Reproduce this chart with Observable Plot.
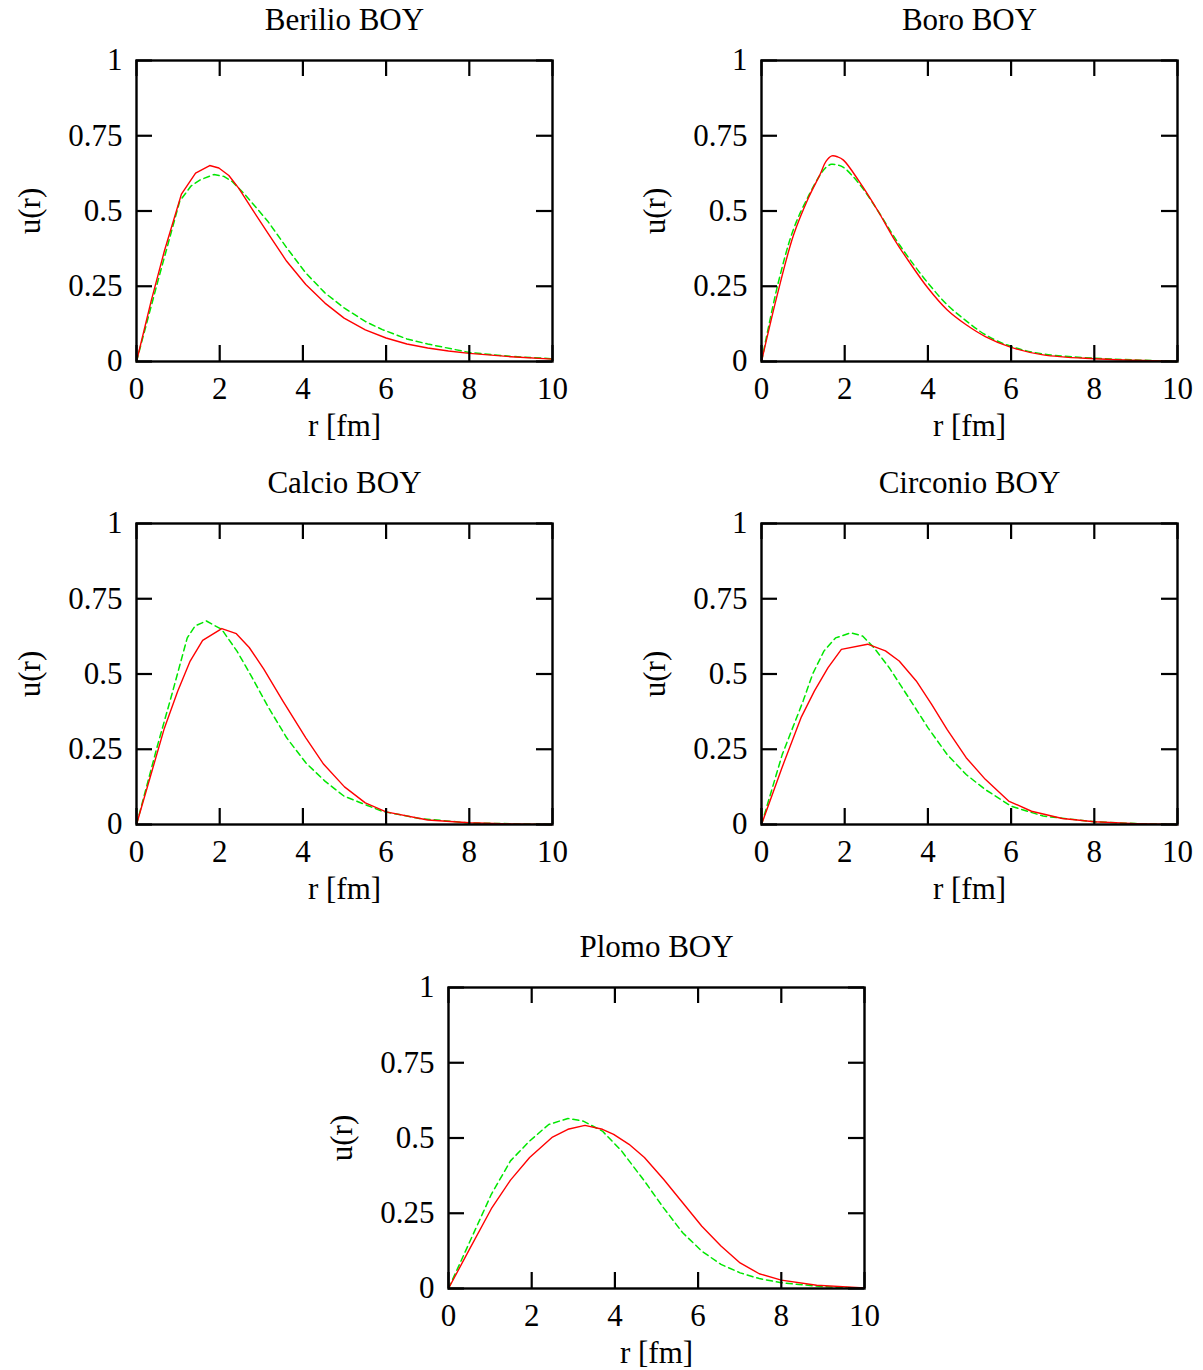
<!DOCTYPE html>
<html><head><meta charset="utf-8">
<script src="https://cdn.jsdelivr.net/npm/d3@7"></script>
<script src="https://cdn.jsdelivr.net/npm/@observablehq/plot@0.6"></script>
<style>
body{margin:0;background:#fff;}
#wrap{position:relative;width:1203px;height:1370px;overflow:hidden;background:#fff;}
#wrap svg{position:absolute;}
</style></head><body><div id="wrap"></div>
<script>
// ---- data ----
const titles = ["Berilio BOY", "Boro BOY", "Calcio BOY", "Circonio BOY", "Plomo BOY"];
const xLabel = "r [fm]";
const yLabel = "u(r)";
const xTicks = [0, 2, 4, 6, 8, 10];
const yTicks = [0, 0.25, 0.5, 0.75, 1];

const beRedR = [0, 0.35, 0.67, 1.08, 1.42, 1.76, 1.98, 2.22, 2.46, 2.78, 3.15, 3.61, 4.07, 4.53, 4.99, 5.5, 6.0, 6.5, 7.0, 7.5, 8.0, 9.0, 10.0];
const beRedU = [0, 0.2, 0.367, 0.556, 0.626, 0.651, 0.643, 0.618, 0.575, 0.506, 0.428, 0.333, 0.256, 0.194, 0.144, 0.105, 0.078, 0.058, 0.045, 0.035, 0.027, 0.016, 0.008];
const beGreenR = [0, 0.5, 1.04, 1.31, 1.54, 1.86, 2.1, 2.3, 2.6, 3.15, 3.61, 4.07, 4.53, 4.99, 5.5, 5.91, 6.5, 7.0, 8.0, 9.0, 10];
const beGreenU = [0, 0.26, 0.533, 0.583, 0.604, 0.621, 0.615, 0.598, 0.556, 0.467, 0.378, 0.294, 0.228, 0.178, 0.133, 0.106, 0.075, 0.058, 0.03, 0.017, 0.009];

const boRedR = [0, 0.4, 0.77, 1.13, 1.41, 1.55, 1.69, 1.83, 1.97, 2.34, 2.8, 3.17, 3.54, 4.0, 4.46, 4.92, 5.38, 6.0, 6.77, 8.0, 9.0, 10];
const boRedU = [0, 0.233, 0.42, 0.544, 0.622, 0.665, 0.683, 0.68, 0.669, 0.60, 0.5, 0.411, 0.333, 0.244, 0.172, 0.122, 0.083, 0.047, 0.022, 0.009, 0.004, 0];
const boGreenR = [0, 0.4, 0.77, 1.13, 1.41, 1.55, 1.68, 1.82, 1.97, 2.34, 2.8, 3.17, 3.54, 4.0, 4.46, 4.92, 5.38, 6.0, 6.77, 8.0, 9.0, 10];
const boGreenU = [0, 0.26, 0.44, 0.55, 0.62, 0.645, 0.655, 0.653, 0.645, 0.592, 0.5, 0.418, 0.344, 0.261, 0.189, 0.135, 0.089, 0.05, 0.025, 0.011, 0.005, 0];

const caRedR = [0, 0.67, 0.99, 1.29, 1.59, 2.05, 2.4, 2.71, 3.06, 3.52, 4.07, 4.5, 5.0, 5.5, 6.0, 7.0, 8.0, 9.0, 10];
const caRedU = [0, 0.32, 0.443, 0.543, 0.612, 0.651, 0.634, 0.588, 0.516, 0.41, 0.288, 0.2, 0.125, 0.072, 0.042, 0.015, 0.006, 0.002, 0];
const caGreenR = [0, 0.5, 0.85, 1.22, 1.41, 1.68, 2.05, 2.42, 2.78, 3.15, 3.61, 4.07, 4.53, 4.99, 5.9, 6.8, 8, 10];
const caGreenU = [0, 0.26, 0.432, 0.62, 0.66, 0.676, 0.648, 0.575, 0.488, 0.394, 0.288, 0.205, 0.144, 0.094, 0.044, 0.02, 0.005, 0];

const ciRedR = [0, 0.49, 0.95, 1.27, 1.6, 1.92, 2.55, 2.98, 3.31, 3.72, 4.09, 4.46, 4.92, 5.38, 5.94, 6.49, 7.23, 8, 9, 10];
const ciRedU = [0, 0.188, 0.355, 0.443, 0.521, 0.582, 0.599, 0.577, 0.543, 0.477, 0.399, 0.316, 0.222, 0.15, 0.078, 0.044, 0.02, 0.009, 0.003, 0];
const ciGreenR = [0, 0.5, 1.0, 1.23, 1.5, 1.78, 2.15, 2.43, 2.7, 3.07, 3.54, 4.0, 4.46, 4.92, 5.38, 6.0, 6.77, 8, 9, 10];
const ciGreenU = [0, 0.233, 0.41, 0.5, 0.576, 0.62, 0.637, 0.626, 0.588, 0.521, 0.421, 0.322, 0.233, 0.166, 0.116, 0.061, 0.028, 0.009, 0.003, 0];

const plRedR = [0, 0.48, 1.03, 1.49, 1.95, 2.5, 2.87, 3.28, 3.7, 3.97, 4.34, 4.71, 5.17, 5.63, 6.09, 6.55, 7.01, 7.47, 8, 8.85, 10];
const plRedU = [0, 0.124, 0.265, 0.36, 0.435, 0.503, 0.529, 0.542, 0.529, 0.512, 0.479, 0.435, 0.363, 0.285, 0.207, 0.141, 0.085, 0.049, 0.028, 0.011, 0.002];
const plGreenR = [0, 0.48, 1.03, 1.49, 1.95, 2.41, 2.87, 3.24, 3.7, 4.16, 4.71, 5.17, 5.63, 6.09, 6.55, 7.01, 7.47, 8, 9, 10];
const plGreenU = [0, 0.146, 0.313, 0.424, 0.49, 0.545, 0.565, 0.556, 0.523, 0.457, 0.357, 0.268, 0.185, 0.124, 0.08, 0.052, 0.033, 0.019, 0.006, 0.001];

// ---- layout ----
const panels = [
  {title: titles[0], rr: beRedR, ru: beRedU, gr: beGreenR, gu: beGreenU, left: 0, top: 0, curve: "linear"},
  {title: titles[1], rr: boRedR, ru: boRedU, gr: boGreenR, gu: boGreenU, left: 625, top: 0, curve: "catmull-rom"},
  {title: titles[2], rr: caRedR, ru: caRedU, gr: caGreenR, gu: caGreenU, left: 0, top: 463, curve: "linear"},
  {title: titles[3], rr: ciRedR, ru: ciRedU, gr: ciGreenR, gu: ciGreenU, left: 625, top: 463, curve: "linear"},
  {title: titles[4], rr: plRedR, ru: plRedU, gr: plGreenR, gu: plGreenU, left: 312, top: 927, curve: "linear"}
];
const W = 416, H = 301, ML = 136, MT = 60, MR = 26, MB = 99, TL = 16;
const wrap = document.getElementById("wrap");

for (const p of panels) {
  const red = p.rr.map((r, i) => ({r, u: p.ru[i]}));
  const green = p.gr.map((r, i) => ({r, u: p.gu[i]}));
  const svg = Plot.plot({
    width: ML + W + MR, height: MT + H + MB,
    marginLeft: ML, marginTop: MT, marginRight: MR, marginBottom: MB,
    style: {fontFamily: "'Liberation Serif', 'DejaVu Serif', serif", fontSize: "31px", color: "#000", background: "transparent"},
    x: {domain: [0, 10]},
    y: {domain: [0, 1]},
    marks: [
      Plot.line(green, {x: "r", y: "u", stroke: "#00e600", strokeWidth: 1.5, strokeDasharray: "6,4", curve: p.curve}),
      Plot.line(red, {x: "r", y: "u", stroke: "#ff0000", strokeWidth: 1.4, curve: p.curve}),
      Plot.tickX(xTicks, {x: d => d, insetTop: H - TL, strokeWidth: 2.2, stroke: "#000"}),
      Plot.tickX(xTicks, {x: d => d, insetBottom: H - TL, strokeWidth: 2.2, stroke: "#000"}),
      Plot.tickY(yTicks, {y: d => d, insetRight: W - TL, strokeWidth: 2.2, stroke: "#000"}),
      Plot.tickY(yTicks, {y: d => d, insetLeft: W - TL, strokeWidth: 2.2, stroke: "#000"}),
      Plot.frame({stroke: "#000", strokeWidth: 2.4}),
      Plot.axisX(xTicks, {tickSize: 0, tickPadding: 15, tickFormat: d => String(d), label: null}),
      Plot.axisY(yTicks, {tickSize: 0, tickPadding: 14, tickFormat: d => String(d), label: null}),
      Plot.text([p.title], {text: d => d, frameAnchor: "top", lineAnchor: "middle", textAnchor: "middle", dy: -40, fill: "#000"}),
      Plot.text([xLabel], {text: d => d, frameAnchor: "bottom", lineAnchor: "middle", textAnchor: "middle", dy: 65, fill: "#000"}),
      Plot.text([yLabel], {text: d => d, frameAnchor: "left", lineAnchor: "middle", textAnchor: "middle", dx: -106, rotate: -90, fill: "#000"})
    ]
  });
  svg.style.position = "absolute";
  svg.style.left = p.left + "px";
  svg.style.top = p.top + "px";
  wrap.appendChild(svg);
}
</script>
</body></html>
